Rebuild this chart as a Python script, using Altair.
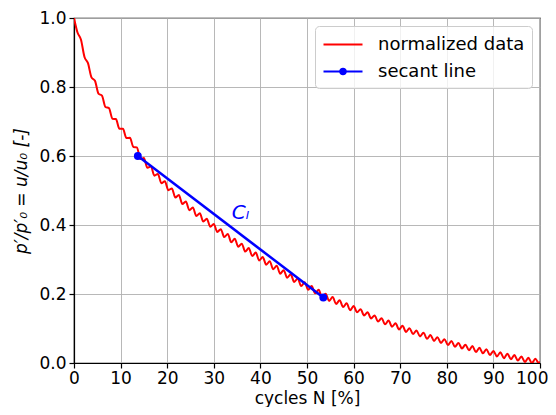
import altair as alt
import pandas as pd

# ---- data ----
cycles = [0, 0.75, 1.5, 2.25, 3, 3.75, 4.5, 5.25, 6, 6.75, 7.5, 8.25, 9, 9.75,
          10.5, 11.25, 12, 12.75, 13.5, 14.25, 15, 15.75, 16.5, 17.25, 18, 18.75,
          19.5, 20.25, 21, 21.75, 22.5, 23.25, 24, 24.75, 25.5, 26.25, 27, 27.75,
          28.5, 29.25, 30, 30.75, 31.5, 32.25, 33, 33.75, 34.5, 35.25, 36, 36.75,
          37.5, 38.25, 39, 39.75, 40.5, 41.25, 42, 42.75, 43.5, 44.25, 45, 45.75,
          46.5, 47.25, 48, 48.75, 49.5, 50.25, 51, 51.75, 52.5, 53.25, 54, 54.75,
          55.5, 56.25, 57, 57.75, 58.5, 59.25, 60, 60.75, 61.5, 62.25, 63, 63.75,
          64.5, 65.25, 66, 66.75, 67.5, 68.25, 69, 69.75, 70.5, 71.25, 72, 72.75,
          73.5, 74.25, 75, 75.75, 76.5, 77.25, 78, 78.75, 79.5, 80.25, 81, 81.75,
          82.5, 83.25, 84, 84.75, 85.5, 86.25, 87, 87.75, 88.5, 89.25, 90, 90.75,
          91.5, 92.25, 93, 93.75, 94.5, 95.25, 96, 96.75, 97.5, 98.25, 99, 99.75, 100]

normalized = [1.000, 0.958, 0.937, 0.887, 0.869, 0.828, 0.818, 0.781, 0.775, 0.742,
              0.739, 0.708, 0.707, 0.679, 0.679, 0.652, 0.653, 0.626, 0.625, 0.591,
              0.594, 0.566, 0.570, 0.543, 0.548, 0.521, 0.527, 0.501, 0.506, 0.480,
              0.487, 0.461, 0.468, 0.443, 0.451, 0.426, 0.434, 0.410, 0.418, 0.395,
              0.403, 0.380, 0.388, 0.365, 0.374, 0.350, 0.360, 0.337, 0.346, 0.323,
              0.333, 0.310, 0.320, 0.297, 0.307, 0.285, 0.295, 0.272, 0.282, 0.259,
              0.269, 0.247, 0.257, 0.235, 0.245, 0.223, 0.234, 0.212, 0.223, 0.202,
              0.212, 0.191, 0.201, 0.180, 0.191, 0.171, 0.182, 0.162, 0.173, 0.153,
              0.165, 0.147, 0.156, 0.138, 0.147, 0.129, 0.138, 0.120, 0.130, 0.112,
              0.123, 0.105, 0.115, 0.097, 0.108, 0.090, 0.101, 0.084, 0.094, 0.077,
              0.088, 0.070, 0.081, 0.064, 0.075, 0.058, 0.069, 0.052, 0.064, 0.047,
              0.058, 0.042, 0.053, 0.037, 0.049, 0.032, 0.044, 0.028, 0.040, 0.023,
              0.035, 0.019, 0.031, 0.014, 0.027, 0.011, 0.023, 0.007, 0.019, 0.003,
              0.015, 0.000, 0.012, 0.000, 0.004]

secant_x = [13.7, 53.5]
secant_y = [0.60, 0.19]

label_x = [35.7]
label_y = [0.436]
label_text = ["Cₗ"]

series_names = ["normalized data", "secant line"]
series_colors = ["red", "blue"]

x_ticks = [0, 10, 20, 30, 40, 50, 60, 70, 80, 90, 100]
y_ticks = [0.0, 0.2, 0.4, 0.6, 0.8, 1.0]

df_norm = pd.DataFrame({"x": cycles, "y": normalized, "series": series_names[0]})
df_sec = pd.DataFrame({"x": secant_x, "y": secant_y, "series": series_names[1]})
df_lab = pd.DataFrame({"x": label_x, "y": label_y, "t": label_text})

FONT = "DejaVu Sans"

x_enc = alt.X("x:Q",
              scale=alt.Scale(domain=[0, 100], nice=False, zero=False),
              axis=alt.Axis(values=x_ticks, format="d", title="cycles N [%]",
                            labelAlign=alt.ExprRef("datum.value === 100 ? 'right' : 'center'"),
                            labelOffset=alt.ExprRef("datum.value === 100 ? 8 : 0"),
                            labelPadding=2,
                            titleY=27, titleBaseline="top"))
y_enc = alt.Y("y:Q",
              scale=alt.Scale(domain=[0, 1], nice=False),
              axis=alt.Axis(values=y_ticks, format=".1f",
                            title="p′/p′₀ = u/u₀ [-]", titleFontStyle="italic"))

line_path = "M-1.95,0L1.95,0"
dot_path = ("M-1.95,0L1.95,0M0.275,0A0.275,0.275,0,1,1,-0.275,0"
            "A0.275,0.275,0,1,1,0.275,0M0.12,0A0.12,0.12,0,1,1,-0.12,0"
            "A0.12,0.12,0,1,1,0.12,0")

legend = alt.Legend(
    title=None, orient="top-right", offset=8,
    labelFont=FONT, labelFontSize=18, labelColor="black",
    symbolType=alt.ExprRef(f"datum.value === 'secant line' ? '{dot_path}' : '{line_path}'"),
    symbolSize=400, symbolStrokeWidth=2.2,
    symbolOffset=9.5, labelOffset=23.5,
    padding=7, rowPadding=6,
    fillColor="rgba(255,255,255,0.8)", strokeColor="#cccccc", cornerRadius=4,
)

color_enc = alt.Color("series:N",
                      scale=alt.Scale(domain=series_names, range=series_colors),
                      legend=legend)

red = alt.Chart(df_norm).mark_line(strokeWidth=2, interpolate="monotone", clip=True).encode(
    x=x_enc, y=y_enc, color=color_enc)

blue = alt.Chart(df_sec).mark_line(strokeWidth=2.5).encode(
    x=x_enc, y=y_enc, color=color_enc)

dots = alt.Chart(df_sec).mark_circle(size=62, opacity=1, color="blue").encode(
    x=x_enc, y=y_enc)

lab = alt.Chart(df_lab).mark_text(fontSize=20, font=FONT, fontStyle="italic",
                                  color="blue", align="center", baseline="middle").encode(
    x=x_enc, y=y_enc, text="t:N")

chart = alt.layer(red, blue, dots, lab).properties(
    width=466, height=345,
    autosize="none",
    padding={"left": 66, "top": 10, "right": 8, "bottom": 44},
).configure_view(
    stroke="black", strokeWidth=1.2
).configure_axis(
    grid=True, gridColor="#b0b0b0", gridWidth=0.9,
    domainColor="black", domainWidth=1.2,
    tickColor="black", tickSize=5, tickWidth=1.2,
    labelFont=FONT, labelFontSize=17, labelColor="black", labelPadding=3,
    titleFont=FONT, titleFontSize=17, titleColor="black", titleFontWeight="normal",
).configure_axisX(
    labelFlush=False,
).configure_axisY(
    titlePadding=8,
)

chart.save("out.html", embed_options={"renderer": "svg", "actions": False})
